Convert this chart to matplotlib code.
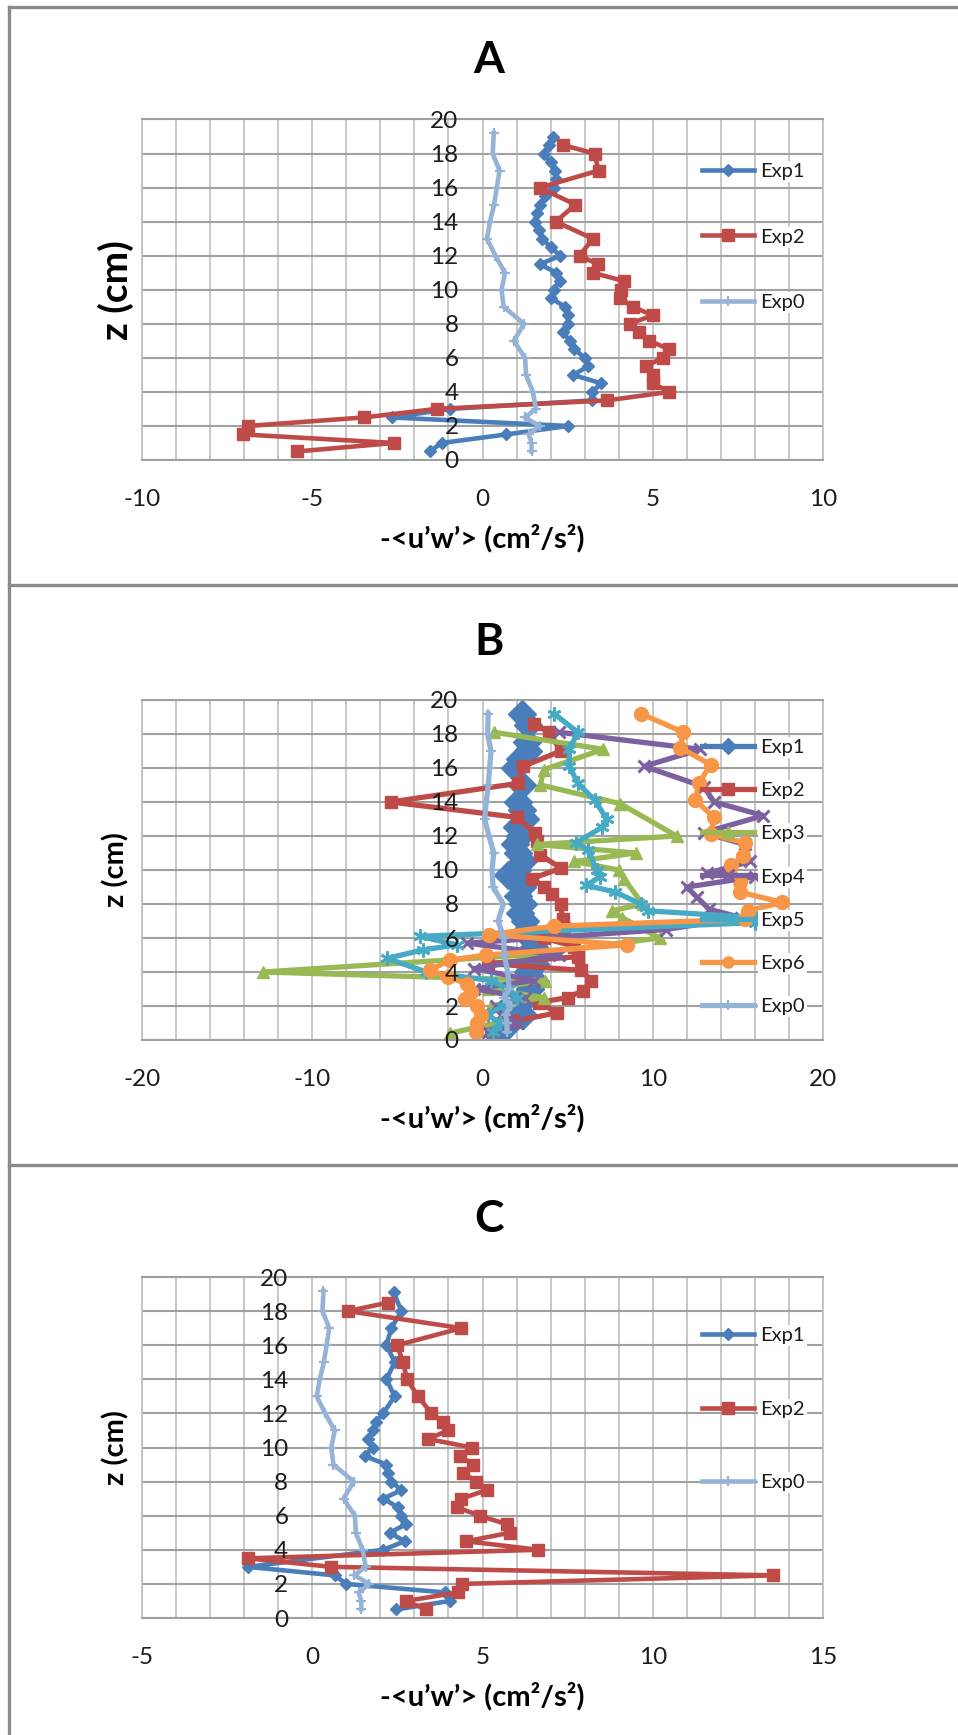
import numpy as np
import matplotlib
matplotlib.use("Agg")
import matplotlib.pyplot as plt
import matplotlib.transforms as mtransforms
from matplotlib.lines import Line2D

plt.rcParams['font.family'] = ['Lato', 'DejaVu Sans']

# ---------------------------------------------------------------- data
# Exp0 (reference run, shown in every panel)
exp0_z = [19.2, 18.0, 17.0, 16.0, 15.0, 14.0, 13.0, 12.0, 11.0, 10.0, 9.0, 8.0,
          7.0, 6.0, 5.0, 4.0, 3.0, 2.5, 2.0, 1.5, 1.0, 0.5]
exp0_uw = [0.33, 0.30, 0.50, 0.42, 0.34, 0.22, 0.13, 0.38, 0.66, 0.56, 0.62, 1.22,
           0.92, 1.25, 1.28, 1.48, 1.57, 1.24, 1.68, 1.36, 1.44, 1.44]

# Panel A
a_exp1_z = [19.0, 18.5, 18.0, 17.5, 17.0, 16.5, 16.0, 15.5, 15.0, 14.5, 14.0, 13.5,
            13.0, 12.5, 12.0, 11.5, 11.0, 10.5, 10.0, 9.5, 9.0, 8.5, 8.0, 7.5, 7.0,
            6.5, 6.0, 5.5, 5.0, 4.5, 4.0, 3.5, 3.0, 2.5, 2.0, 1.5, 1.0, 0.5]
a_exp1_uw = [2.07, 1.95, 1.80, 2.00, 2.12, 2.15, 2.10, 1.85, 1.70, 1.60, 1.53, 1.65,
             1.76, 2.00, 2.29, 1.68, 2.17, 2.27, 2.10, 2.02, 2.42, 2.52, 2.50, 2.37,
             2.56, 2.70, 3.00, 3.10, 2.66, 3.49, 3.22, 3.22, -0.96, -2.67, 2.51,
             0.70, -1.20, -1.55]
a_exp2_z = [18.5, 18.0, 17.0, 16.0, 15.0, 14.0, 13.0, 12.0, 11.5, 11.0, 10.5, 10.0,
            9.5, 9.0, 8.5, 8.0, 7.5, 7.0, 6.5, 6.0, 5.5, 5.0, 4.5, 4.0, 3.5, 3.0,
            2.5, 2.0, 1.5, 1.0, 0.5]
a_exp2_uw = [2.36, 3.29, 3.41, 1.68, 2.73, 2.15, 3.24, 2.85, 3.39, 3.24, 4.17, 4.07,
             4.05, 4.41, 5.00, 4.32, 4.61, 4.90, 5.49, 5.29, 4.80, 5.00, 5.00, 5.49,
             3.65, -1.35, -3.48, -6.89, -7.02, -2.60, -5.45]

# Panel B
b_exp1_z = [19.2, 18.5, 17.5, 17.0, 16.5, 16.0, 15.0, 14.0, 13.5, 13.0, 12.5, 12.0,
            11.5, 11.0, 10.5, 10.0, 9.7, 9.0, 8.5, 8.0, 7.5, 7.0, 6.5, 6.0, 5.5, 5.0,
            4.5, 4.0, 3.5, 3.0, 2.5, 2.0, 1.5, 1.0, 0.3]
b_exp1_uw = [2.3, 2.7, 2.6, 2.7, 2.2, 1.9, 2.3, 2.1, 2.3, 2.5, 2.0, 2.2, 1.9, 2.1,
             2.4, 2.0, 1.5, 2.3, 2.1, 2.4, 2.2, 2.5, 2.6, 2.8, 3.0, 3.3, 3.1, 2.7,
             3.1, 2.8, 2.5, 2.1, 2.4, 1.6, 0.9]
b_exp2_z = [18.6, 18.1, 17.0, 16.1, 15.1, 14.0, 13.1, 12.2, 11.7, 10.9, 10.1, 9.5,
            9.0, 8.6, 8.0, 7.1, 6.6, 6.0, 5.5, 4.9, 4.5, 4.1, 3.5, 2.9, 2.5, 2.2,
            1.6, 1.1, 0.6]
b_exp2_uw = [3.0, 3.9, 4.6, 2.4, 2.1, -5.4, 2.0, 3.1, 3.2, 3.4, 4.6, 2.9, 3.6, 4.1,
             4.6, 4.7, 4.8, 3.6, 5.4, 5.6, 0.3, 5.8, 6.4, 5.9, 5.0, 3.3, 4.4, 1.8,
             0.5]
b_exp3_z = [18.1, 17.1, 15.9, 15.0, 13.9, 12.0, 11.5, 11.0, 10.5, 10.0, 9.5, 8.0,
            7.6, 7.2, 6.0, 5.0, 4.0, 3.5, 3.0, 2.5, 2.0, 1.5, 1.0, 0.4]
b_exp3_uw = [0.7, 7.1, 3.6, 3.4, 8.1, 11.4, 3.2, 9.0, 5.4, 8.0, 8.3, 9.4, 7.6, 8.2,
             10.4, 2.5, -12.9, 3.7, 0.3, 3.6, 0.5, 1.2, 0.8, -1.9]
b_exp4_z = [18.1, 17.1, 16.1, 14.9, 14.0, 13.2, 12.2, 11.5, 10.5, 9.8, 9.6, 9.0,
            8.4, 7.7, 7.2, 6.5, 5.7, 5.0, 4.2, 3.5, 3.0, 2.5, 2.0, 1.5, 1.0, 0.5]
b_exp4_uw = [4.5, 12.8, 9.5, 13.0, 13.6, 16.5, 13.0, 15.4, 15.7, 13.2, 16.0, 12.0,
             12.6, 13.3, 15.2, 10.8, -0.9, 4.5, -0.5, 3.0, -0.5, 2.5, 0.8, 1.1, 2.0,
             0.3]
b_exp5_z = [19.2, 18.1, 17.1, 16.1, 15.1, 14.1, 13.0, 12.5, 11.6, 11.2, 10.0, 9.6,
            9.1, 8.7, 8.0, 7.6, 7.2, 6.9, 6.1, 5.6, 5.3, 4.8, 4.0, 3.5, 3.0, 2.5,
            2.0, 1.5, 1.0, 0.5]
b_exp5_uw = [4.2, 5.6, 5.1, 5.1, 5.6, 6.6, 7.3, 7.0, 5.5, 6.2, 6.7, 6.9, 6.1, 7.8,
             9.3, 9.7, 16.1, 16.0, -3.7, -1.5, -3.5, -5.6, -3.3, 0.5, 1.5, 2.0, 1.2,
             0.3, 1.0, 0.6]
b_exp6_z = [19.2, 18.1, 17.2, 16.2, 15.1, 14.1, 13.1, 12.1, 11.6, 10.8, 10.3, 9.3,
            8.7, 8.1, 7.6, 7.1, 6.7, 6.2, 5.6, 5.0, 4.7, 4.1, 3.7, 3.3, 2.8, 2.4,
            2.0, 1.5, 1.0, 0.5]
b_exp6_uw = [9.3, 11.8, 11.6, 13.4, 12.7, 12.5, 13.6, 13.4, 15.4, 15.3, 14.6, 15.1,
             15.1, 17.6, 15.6, 15.4, 4.2, 0.4, 8.5, 0.2, -1.9, -3.1, -2.0, -0.9,
             -0.7, -1.0, -0.3, -0.1, -0.3, -0.4]

# Panel C
c_exp1_z = [19.1, 18.0, 17.0, 16.0, 15.0, 14.0, 13.0, 12.0, 11.5, 11.0, 10.5, 10.0,
            9.5, 9.0, 8.5, 8.0, 7.5, 7.0, 6.5, 6.0, 5.5, 5.0, 4.5, 4.0, 3.0, 2.5,
            2.0, 1.5, 1.0, 0.5]
c_exp1_uw = [2.39, 2.62, 2.32, 2.18, 2.42, 2.18, 2.42, 2.08, 1.88, 1.78, 1.64, 1.78,
             1.54, 2.18, 2.23, 2.32, 2.62, 2.08, 2.52, 2.62, 2.76, 2.27, 2.72, 2.08,
             -1.89, 0.66, 1.00, 3.89, 4.04, 2.47]
c_exp2_z = [18.5, 18.0, 17.0, 16.0, 15.0, 14.0, 13.0, 12.0, 11.5, 11.0, 10.5, 10.0,
            9.5, 9.0, 8.5, 8.0, 7.5, 7.0, 6.5, 6.0, 5.5, 5.0, 4.5, 4.0, 3.5, 3.0,
            2.5, 2.0, 1.5, 1.0, 0.5]
c_exp2_uw = [2.23, 1.05, 4.38, 2.49, 2.67, 2.78, 3.11, 3.50, 3.84, 3.99, 3.40, 4.68,
             4.33, 4.73, 4.43, 4.82, 5.12, 4.38, 4.24, 4.92, 5.71, 5.80, 4.53, 6.64,
             -1.89, 0.56, 13.53, 4.41, 4.28, 2.76, 3.35]

y_ticks = [0, 2, 4, 6, 8, 10, 12, 14, 16, 18, 20]
a_xticks = [-10, -5, 0, 5, 10]
b_xticks = [-20, -10, 0, 10, 20]
c_xticks = [-5, 0, 5, 10, 15]

# ---------------------------------------------------------------- styles
BLUE = '#4a7ebb'
RED = '#be4b48'
GREEN = '#98b954'
PURPLE = '#7d60a0'
CYAN = '#46aac5'
ORANGE = '#f79646'
LIGHT = '#95b3d7'
GRID_V = '#bebebe'
GRID_H = '#a0a0a0'
TXT = '#1c1c1c'

STYLE = {
    'Exp1': dict(color=BLUE, marker='D', ms=6.5),
    'Exp2': dict(color=RED, marker='s', ms=9),
    'Exp3': dict(color=GREEN, marker='^', ms=9),
    'Exp4': dict(color=PURPLE, marker='x', ms=8, mew=2.2),
    'Exp5': dict(color=CYAN, marker=(6, 2, 0), ms=10, mew=2),
    'Exp6': dict(color=ORANGE, marker='o', ms=10),
    'Exp0': dict(color=LIGHT, marker='+', ms=7, mew=1.6),
}

TICK_FS = 17.5
W, H, DPI = 958, 1735, 100
fig = plt.figure(figsize=(W / DPI, H / DPI), dpi=DPI)


def fy(y):
    return 1 - y / H


def panel(top, bottom, xlim, xticks, minor_step, series, title, title_base,
          ylab_size, legend_center, legend_step, lw=3.3):
    left, right = 142, 823
    ax = fig.add_axes([left / W, fy(bottom), (right - left) / W, (bottom - top) / H])
    ax.set_xlim(*xlim)
    ax.set_ylim(0, 20)
    ax.set_xticks(xticks)
    ax.set_xticks(np.arange(xlim[0], xlim[1] + 0.01, minor_step), minor=True)
    ax.set_yticks(y_ticks)
    ax.tick_params(which='both', length=0, labelbottom=False, labelleft=False)
    ax.grid(True, axis='x', which='both', color=GRID_V, lw=1.2)
    ax.grid(True, axis='y', which='major', color=GRID_H, lw=1.5)
    ax.set_axisbelow(True)
    for side in ('left', 'right'):
        ax.spines[side].set_color(GRID_V)
        ax.spines[side].set_linewidth(1.2)
    for side in ('top', 'bottom'):
        ax.spines[side].set_color(GRID_H)
        ax.spines[side].set_linewidth(1.5)

    handles = []
    for name, uw, z, extra in series:
        st = dict(STYLE[name])
        st.update(extra)
        ln, = ax.plot(uw, z, lw=lw, label=name, solid_joinstyle='round', **st)
        handles.append(ln)

    # value labels: the z axis crosses at x = 0
    ytr = mtransforms.offset_copy(ax.transData, fig=fig, x=-24, y=-8.5, units='dots')
    for t in y_ticks:
        ax.text(0, t, f'{t}', transform=ytr, ha='right', va='baseline',
                fontsize=TICK_FS, color=TXT)
    xtr = mtransforms.offset_copy(
        mtransforms.blended_transform_factory(ax.transData, ax.transAxes),
        fig=fig, x=0, y=-45.5, units='dots')
    for t in xticks:
        ax.text(t, 0, f'{t}', transform=xtr, ha='center', va='baseline',
                fontsize=TICK_FS, color=TXT)

    fig.text(489 / W, fy(title_base), title, ha='center', va='baseline',
             fontsize=32, fontweight='bold', color='black')
    fig.text(482.5 / W, fy(bottom + 78), '-<u’w’> (cm²/s²)', ha='center',
             va='center', fontsize=21, fontweight='bold', color='black')
    fig.text(116 / W, fy((top + bottom) / 2), 'z (cm)', ha='center', va='center',
             rotation=90, fontsize=ylab_size, fontweight='bold', color='black')

    fs = 14.5
    fs_px = fs * DPI / 72
    leg = ax.legend(handles=handles, loc='center left',
                    bbox_to_anchor=(702 / W, fy(legend_center)),
                    bbox_transform=fig.transFigure, frameon=False, borderpad=0,
                    borderaxespad=0, numpoints=1, fontsize=fs,
                    handlelength=52 / fs_px, handletextpad=6 / fs_px,
                    labelspacing=legend_step / fs_px - 1.2)
    for t in leg.get_texts():
        t.set_color(TXT)
        t.set_bbox(dict(facecolor='white', edgecolor='none', pad=1.5))
    for h in leg.legend_handles:
        h.set_markersize(min(h.get_markersize(), 8))
    return ax


panel(119.5, 460,
      (-10, 10), a_xticks, 1,
      [('Exp1', a_exp1_uw, a_exp1_z, {}),
       ('Exp2', a_exp2_uw, a_exp2_z, {}),
       ('Exp0', exp0_uw, exp0_z, {})],
      'A', 73, 28, 237, 73)

panel(700, 1040,
      (-20, 20), b_xticks, 2,
      [('Exp1', b_exp1_uw, b_exp1_z, dict(ms=14)),
       ('Exp2', b_exp2_uw, b_exp2_z, {}),
       ('Exp3', b_exp3_uw, b_exp3_z, {}),
       ('Exp4', b_exp4_uw, b_exp4_z, {}),
       ('Exp5', b_exp5_uw, b_exp5_z, {}),
       ('Exp6', b_exp6_uw, b_exp6_z, {}),
       ('Exp0', exp0_uw, exp0_z, {})],
      'B', 655, 21, 877, 50.2, lw=3.8)

panel(1277, 1618,
      (-5, 15), c_xticks, 1,
      [('Exp1', c_exp1_uw, c_exp1_z, {}),
       ('Exp2', c_exp2_uw, c_exp2_z, {}),
       ('Exp0', exp0_uw, exp0_z, {})],
      'C', 1232, 21, 1409, 81)

# panel frames
frame = dict(color='#8a8a8a', lw=2.4, transform=fig.transFigure)
for yy in (7.5, 585, 1165):
    fig.add_artist(Line2D([9 / W, 1], [fy(yy), fy(yy)], **frame))
fig.add_artist(Line2D([9 / W, 9 / W], [fy(7.5), 0], **frame))

fig.savefig('out.png', dpi=DPI, facecolor='white')
